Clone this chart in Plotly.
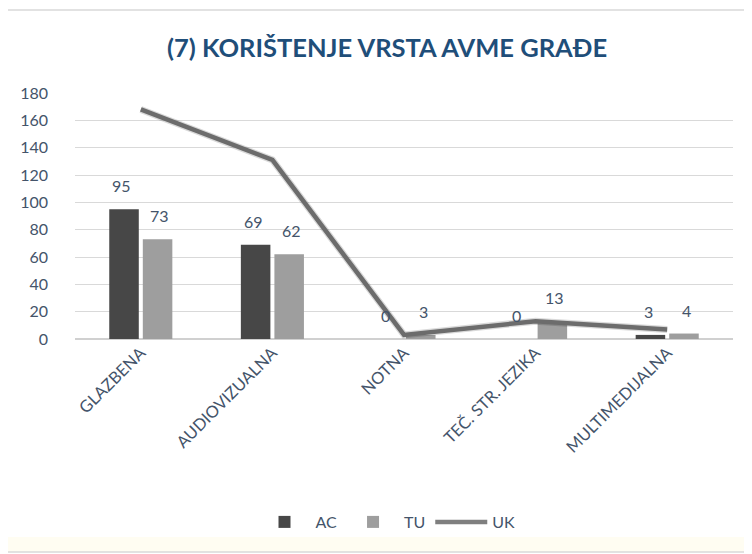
import plotly.graph_objects as go

categories = ["GLAZBENA", "AUDIOVIZUALNA", "NOTNA", "TEČ. STR. JEZIKA", "MULTIMEDIJALNA"]
ac_values = [95, 69, 0, 0, 3]
tu_values = [73, 62, 3, 13, 4]
uk_values = [168, 131, 3, 13, 7]
y_ticks = [0, 20, 40, 60, 80, 100, 120, 140, 160, 180]

OFF = 8  # page body margin
W, H = 752 - OFF, 554 - OFF
# desired plot area in screen pixels
SL, SR, ST, SB = 75, 733, 93, 339
L, T = SL - OFF, ST - OFF
R = W - (SR - OFF)
B = H - (SB - OFF)
PW, PH = SR - SL, SB - ST

def px_x(px):
    return (px - SL) / PW

def px_y(py):
    return (SB - py) / PH

FONT = "Lato, 'Open Sans', sans-serif"
TXT = "#44546A"

fig = go.Figure()
fig.add_trace(go.Bar(
    x=categories, y=ac_values, name="AC",
    marker=dict(color="#474747", line=dict(width=0)),
))
fig.add_trace(go.Bar(
    x=categories, y=tu_values, name="TU",
    marker=dict(color="#9e9e9e", line=dict(width=0)),
))
# soft shadow for the UK line
fig.add_trace(go.Scatter(
    x=categories, y=uk_values, mode="lines", showlegend=False, hoverinfo="skip",
    line=dict(color="rgba(0,0,0,0.15)", width=7), yaxis="y2",
))
fig.add_trace(go.Scatter(
    x=categories, y=uk_values, name="UK", mode="lines",
    line=dict(color="#7f7f7f", width=4.5),
))

annotations = []
for cat, a, t in zip(categories, ac_values, tu_values):
    annotations.append(dict(x=cat, y=a, xref="x", yref="y", text=str(a), showarrow=False,
                            xshift=-19, yshift=12, yanchor="bottom",
                            font=dict(family=FONT, size=16, color=TXT)))
    annotations.append(dict(x=cat, y=t, xref="x", yref="y", text=str(t), showarrow=False,
                            xshift=19, yshift=12, yanchor="bottom",
                            font=dict(family=FONT, size=16, color=TXT)))

shapes = [
    dict(type="rect", xref="paper", yref="paper",
         x0=px_x(7), x1=px_x(748), y0=px_y(552), y1=px_y(537),
         fillcolor="#fffdf2", line=dict(width=0), layer="below"),
    dict(type="rect", xref="paper", yref="paper",
         x0=px_x(7), x1=px_x(748), y0=px_y(552), y1=px_y(10),
         fillcolor="rgba(0,0,0,0)", line=dict(color="#d9d9d9", width=1.5), layer="below"),
]

fig.update_layout(
    width=W, height=H,
    margin=dict(l=L, r=R, t=T, b=B, pad=0, autoexpand=False),
    paper_bgcolor="white", plot_bgcolor="white",
    barmode="group", bargap=0.49, bargroupgap=0.12,
    title=dict(text="<b>(7) KORIŠTENJE VRSTA AVME GRAĐE</b>",
               x=(387 - OFF) / W, xanchor="center", y=1 - (48 - OFF) / H, yanchor="middle",
               font=dict(family=FONT, size=25.5, color="#1F4E79")),
    xaxis=dict(tickangle=-45, tickfont=dict(family=FONT, size=16.5, color=TXT),
               showgrid=False, showline=False, ticks="", automargin=False),
    yaxis=dict(range=[0, 180], tickvals=y_ticks, showgrid=True, gridcolor="#d9d9d9",
               gridwidth=1, zeroline=True, zerolinecolor="#d0d0d0", automargin=False,
               tickfont=dict(family=FONT, size=16, color=TXT), ticks="", ticklabelstandoff=26),
    yaxis2=dict(range=[0, 180], overlaying="y", visible=False),
    legend=dict(orientation="h", x=px_x(387), xanchor="center", y=px_y(522), yanchor="middle",
                font=dict(family=FONT, size=16, color=TXT), bgcolor="rgba(0,0,0,0)",
                itemwidth=52),
    annotations=annotations,
    shapes=shapes,
    showlegend=True,
)

fig.write_html("out.html")
